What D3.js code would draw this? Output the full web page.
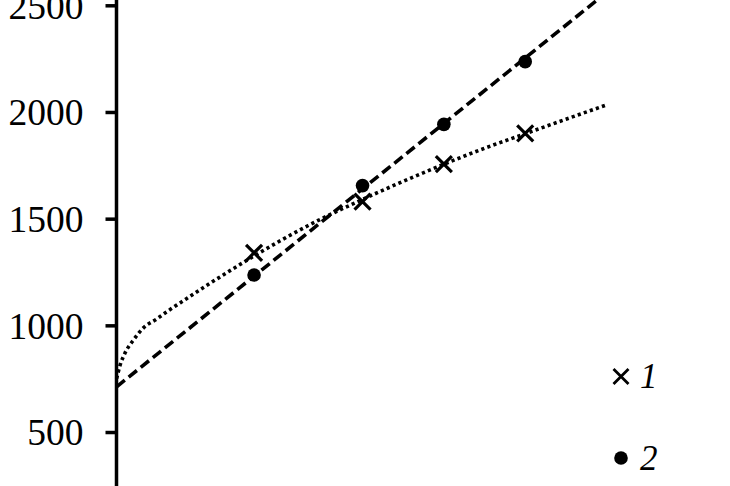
<!DOCTYPE html>
<html>
<head>
<meta charset="utf-8">
<script src="https://cdn.jsdelivr.net/npm/d3@7"></script>
<style>
  html, body { margin: 0; padding: 0; background: #fff; }
  svg { display: block; }
</style>
</head>
<body>
<div id="chart"></div>
<script>
// measured points, series 1 (crosses) and series 2 (dots)
const xValues = [0.5, 0.9, 1.2, 1.5];
const series1 = [1340, 1580, 1756, 1900];
const series2 = [1236, 1655, 1942, 2236];

// trend line 1 (dotted curve)
const trend1X = [-0.007, 0.006, 0.024, 0.055, 0.091, 0.141, 0.183, 0.227, 0.335, 0.42, 0.5, 0.7, 0.9, 1.05, 1.2, 1.35, 1.5, 1.65, 1.8];
const trend1Y = [750, 814, 870, 931, 987, 1030, 1068, 1105, 1195, 1263, 1325, 1468, 1590, 1675, 1755, 1830, 1898, 1966, 2033];

// trend line 2 (dashed straight line)
const trend2X = [-0.007, 1.8];
const trend2Y = [712, 2560];

const yTicks = [500, 1000, 1500, 2000, 2500];
const legendLabels = ["1", "2"];

const width = 730;
const height = 486;

const svg = d3
  .select("#chart")
  .append("svg")
  .attr("width", width)
  .attr("height", height)
  .attr("viewBox", [0, 0, width, height]);

// scales: x origin sits right at the vertical axis
const x = d3.scaleLinear().domain([0, 2.2]).range([118.5, 715]);
const y = d3.scaleLinear().domain([0, 2500]).range([538.7, 5.3]);

// y axis
const yAxis = svg
  .append("g")
  .attr("transform", "translate(116.5,0)")
  .call(d3.axisLeft(y).tickValues(yTicks).tickSize(11).tickPadding(22).tickFormat(d3.format("d")));

yAxis.select(".domain").remove();
yAxis.selectAll(".tick line").attr("stroke", "#000").attr("stroke-width", 3.5);
yAxis
  .selectAll(".tick text")
  .attr("fill", "#000")
  .attr("font-family", "'Liberation Serif', 'Times New Roman', serif")
  .attr("font-size", "37.5px")
  .attr("dy", "0.34em");

svg
  .append("line")
  .attr("x1", 116.5)
  .attr("x2", 116.5)
  .attr("y1", 0)
  .attr("y2", height)
  .attr("stroke", "#000")
  .attr("stroke-width", 3.5);

// trend lines
const line = d3
  .line()
  .x((d) => x(d[0]))
  .y((d) => y(d[1]));

svg
  .append("path")
  .datum(d3.zip(trend1X, trend1Y))
  .attr("d", line.curve(d3.curveMonotoneX))
  .attr("fill", "none")
  .attr("stroke", "#000")
  .attr("stroke-width", 3.6)
  .attr("stroke-dasharray", "3.2 3.2");

svg
  .append("path")
  .datum(d3.zip(trend2X, trend2Y))
  .attr("d", line.curve(d3.curveLinear))
  .attr("fill", "none")
  .attr("stroke", "#000")
  .attr("stroke-width", 3.6)
  .attr("stroke-dasharray", "10.5 5");

// markers
const crossPath = (s) => `M${-s},${-s}L${s},${s}M${-s},${s}L${s},${-s}`;

svg
  .append("g")
  .selectAll("path")
  .data(d3.zip(xValues, series1))
  .join("path")
  .attr("transform", (d) => `translate(${x(d[0])},${y(d[1])})`)
  .attr("d", crossPath(8))
  .attr("stroke", "#000")
  .attr("stroke-width", 3.2)
  .attr("fill", "none");

svg
  .append("g")
  .selectAll("circle")
  .data(d3.zip(xValues, series2))
  .join("circle")
  .attr("cx", (d) => x(d[0]))
  .attr("cy", (d) => y(d[1]))
  .attr("r", 6.8)
  .attr("fill", "#000");

// legend
const legend = svg.append("g").attr("transform", "translate(621,0)");

legend
  .append("path")
  .attr("transform", "translate(0,376.5)")
  .attr("d", crossPath(7.5))
  .attr("stroke", "#000")
  .attr("stroke-width", 2.8)
  .attr("fill", "none");

legend.append("circle").attr("cx", 0).attr("cy", 458).attr("r", 6.8).attr("fill", "#000");

legend
  .selectAll("text")
  .data(legendLabels)
  .join("text")
  .attr("x", 19)
  .attr("y", (d, i) => (i === 0 ? 388 : 470))
  .attr("font-family", "'Liberation Serif', 'Times New Roman', serif")
  .attr("font-style", "italic")
  .attr("font-size", "35px")
  .attr("fill", "#000")
  .text((d) => d);
</script>
</body>
</html>
